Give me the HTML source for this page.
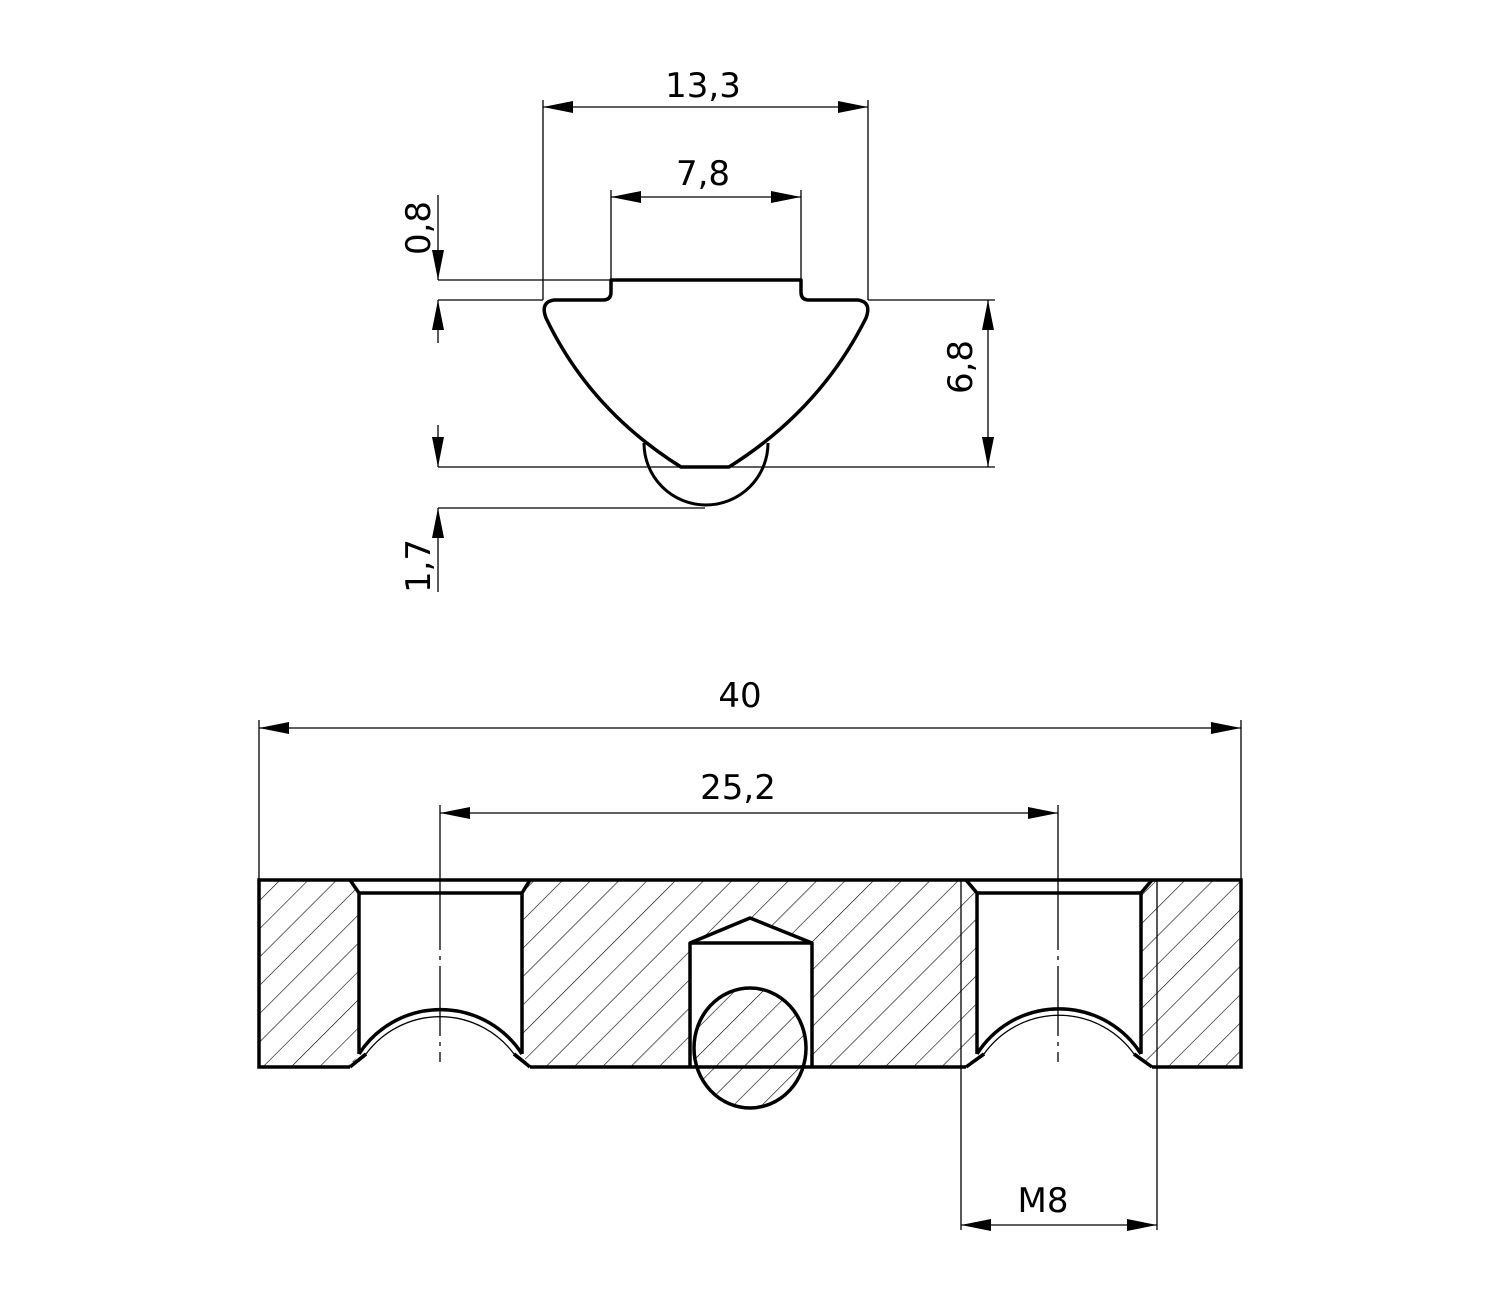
<!DOCTYPE html>
<html><head><meta charset="utf-8"><style>html,body{margin:0;padding:0;background:#fff}svg{display:block}</style></head>
<body>
<svg width="1500" height="1300" viewBox="0 0 1500 1300" xmlns="http://www.w3.org/2000/svg" font-family="'DejaVu Sans','Liberation Sans',sans-serif" font-size="34">
<defs>
<pattern id="h" patternUnits="userSpaceOnUse" width="20" height="20" patternTransform="rotate(45)">
<line x1="0" y1="0" x2="0" y2="20" stroke="#000" stroke-width="1.2"/>
</pattern>
<marker id="a" markerWidth="30" markerHeight="12" refX="30" refY="6" orient="auto" markerUnits="userSpaceOnUse"><path d="M0,0 L30,6 L0,12 Z" fill="#000"/></marker>
<marker id="b" markerWidth="30" markerHeight="12" refX="0" refY="6" orient="auto" markerUnits="userSpaceOnUse"><path d="M30,0 L0,6 L30,12 Z" fill="#000"/></marker>
</defs>
<g stroke="#000" stroke-width="1.3" fill="none">
<line x1="543" y1="100" x2="543" y2="300"/><line x1="868" y1="100" x2="868" y2="300"/>
<line x1="543" y1="107" x2="868" y2="107" marker-start="url(#b)" marker-end="url(#a)"/>
<line x1="611" y1="190" x2="611" y2="280"/><line x1="801" y1="190" x2="801" y2="280"/>
<line x1="611" y1="197" x2="801" y2="197" marker-start="url(#b)" marker-end="url(#a)"/>
<line x1="438" y1="280" x2="611" y2="280"/><line x1="438" y1="300" x2="543" y2="300"/>
<line x1="438" y1="195" x2="438" y2="280" marker-end="url(#a)"/>
<line x1="438" y1="343" x2="438" y2="300" marker-end="url(#a)"/>
<line x1="868" y1="300" x2="995" y2="300"/><line x1="729" y1="467" x2="995" y2="467"/>
<line x1="988" y1="300" x2="988" y2="467" marker-start="url(#b)" marker-end="url(#a)"/>
<line x1="438" y1="467" x2="681" y2="467"/><line x1="438" y1="508" x2="705" y2="508"/>
<line x1="438" y1="425" x2="438" y2="467" marker-end="url(#a)"/>
<line x1="438" y1="592" x2="438" y2="508" marker-end="url(#a)"/>
<line x1="259" y1="720" x2="259" y2="880"/><line x1="1241" y1="720" x2="1241" y2="880"/>
<line x1="259" y1="728" x2="1241" y2="728" marker-start="url(#b)" marker-end="url(#a)"/>
<line x1="440" y1="805" x2="440" y2="880"/><line x1="1058" y1="805" x2="1058" y2="880"/>
<line x1="440" y1="813" x2="1058" y2="813" marker-start="url(#b)" marker-end="url(#a)"/>
<line x1="961" y1="1067" x2="961" y2="1230"/><line x1="1157" y1="1067" x2="1157" y2="1230"/>
<line x1="961" y1="1225" x2="1157" y2="1225" marker-start="url(#b)" marker-end="url(#a)"/>
</g>
<path d="M611,280 L801,280 L801,292 Q801,300 809,300 L858,300 Q872,302 866,318 Q820,410 729,467 L681,467 Q590,410 546,318 Q540,302 554,300 L603,300 Q611,300 611,292 Z" fill="#fff" stroke="#000" stroke-width="3.5" stroke-linejoin="round"/>
<path d="M644,443 A62,62 0 0 0 768,443" fill="none" stroke="#000" stroke-width="3"/>
<rect x="259" y="880" width="982" height="187" fill="url(#h)"/>
<g fill="#fff" stroke="none">
<path d="M350,880 L530,880 L522,893 L522,1054 L530,1067 L350,1067 L359,1054 L359,893 Z"/>
<path d="M966,880 L1152,880 L1141,893 L1141,1054 L1152,1067 L966,1067 L977,1054 L977,893 Z"/>
<path d="M690,1067 L690,943 L750,918 L812,943 L812,1067 Z"/>
</g>
<g stroke="#000" stroke-width="3.5" fill="none" stroke-linejoin="round">
<path d="M350,880 L359,893 L359,1054 M530,880 L522,893 L522,1054"/>
<path d="M966,880 L977,893 L977,1054 M1152,880 L1141,893 L1141,1054"/>
<path d="M690,1067 L690,943 L750,918 L812,943 L812,1067"/>
<line x1="359" y1="893" x2="522" y2="893"/><line x1="977" y1="893" x2="1141" y2="893"/>
<line x1="690" y1="943" x2="812" y2="943"/>
<line x1="350" y1="1067" x2="366" y2="1054"/><line x1="530" y1="1067" x2="514" y2="1054"/>
<line x1="966" y1="1067" x2="984" y2="1054"/><line x1="1152" y1="1067" x2="1134" y2="1054"/>
<path d="M359,1054 A97,97 0 0 1 522,1054"/>
<path d="M977,1054 A97,97 0 0 1 1141,1054"/>
</g>
<g stroke="#000" stroke-width="1.3" fill="none">
<path d="M366,1054 A92,92 0 0 1 514,1054"/><path d="M984,1054 A92,92 0 0 1 1134,1054"/>
<line x1="961" y1="880" x2="961" y2="1067"/><line x1="1157" y1="880" x2="1157" y2="1067"/>
<line x1="440" y1="880" x2="440" y2="1062" stroke-dasharray="70,6,4,6"/>
<line x1="1058" y1="880" x2="1058" y2="1062" stroke-dasharray="70,6,4,6"/>
</g>
<rect x="259" y="880" width="982" height="187" fill="none" stroke="#000" stroke-width="3.5"/>
<rect x="350" y="1062" width="180" height="10" fill="#fff"/>
<rect x="966" y="1062" width="186" height="10" fill="#fff"/>
<g stroke="#000" stroke-width="3.5"><line x1="350" y1="1067" x2="366" y2="1054"/><line x1="530" y1="1067" x2="514" y2="1054"/>
<line x1="966" y1="1067" x2="984" y2="1054"/><line x1="1152" y1="1067" x2="1134" y2="1054"/></g>
<ellipse cx="750" cy="1048" rx="56" ry="60" fill="url(#h)" stroke="#000" stroke-width="3.5"/>
<g fill="#000" text-anchor="middle">
<text x="703" y="97">13,3</text>
<text x="703" y="185">7,8</text>
<text x="740" y="707">40</text>
<text x="738" y="799">25,2</text>
<text x="1043" y="1212">M8</text>
<text transform="translate(430,228) rotate(-90)">0,8</text>
<text transform="translate(972,367) rotate(-90)">6,8</text>
<text transform="translate(430,566) rotate(-90)">1,7</text>
</g>
</svg>
</body></html>
